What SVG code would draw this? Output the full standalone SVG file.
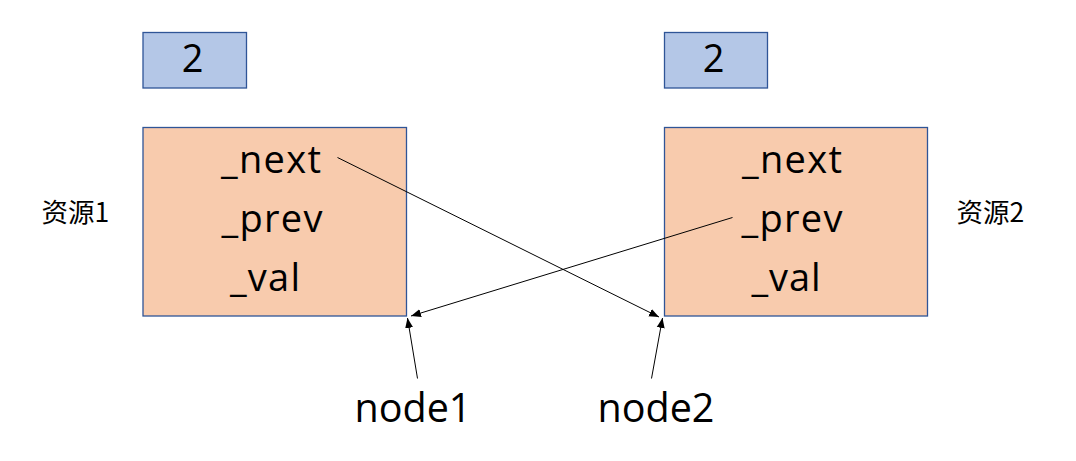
<svg xmlns="http://www.w3.org/2000/svg" width="1076" height="461" viewBox="0 0 1076 461">
<defs>
<style>
.cnt{fill:#B4C7E7;stroke:#2F5597;stroke-width:1.3}
.node{fill:#F8CBAD;stroke:#2F5597;stroke-width:1.3}
.t{font-family:"Open Sans","Noto Sans","Noto Sans CJK SC",sans-serif;fill:#000;text-anchor:middle}
.f{font-size:38px}
.lbl{font-family:"Noto Sans CJK SC","Noto Sans",sans-serif;font-size:26.5px;fill:#000}
.big{font-size:39.5px}
.c{stroke:#000;stroke-width:1;fill:none;marker-end:url(#ah)}
</style>
<marker id="ah" viewBox="0 0 10 10" refX="10" refY="5" markerWidth="10" markerHeight="10" markerUnits="userSpaceOnUse" orient="auto">
<path d="M0,1 L10,5 L0,9 Z" fill="#000"/>
</marker>
</defs>
<rect width="1076" height="461" fill="#fff"/>
<g id="count1">
<rect class="cnt" x="143" y="32.5" width="103.5" height="55.5"/>
<text class="t f" x="192.5" y="72">2</text>
</g>
<g id="count2">
<rect class="cnt" x="664.5" y="32.5" width="103" height="55.5"/>
<text class="t f" x="713.5" y="72">2</text>
</g>
<g id="node1box">
<rect class="node" x="143" y="127.5" width="263.5" height="188.5"/>
<text class="t f" x="271" y="173" textLength="100">_next</text>
<text class="t f" x="272" y="232" textLength="101">_prev</text>
<text class="t f" x="265" y="291" textLength="70">_val</text>
</g>
<g id="node2box">
<rect class="node" x="664.5" y="127.5" width="263" height="188.5"/>
<text class="t f" x="792" y="173" textLength="100">_next</text>
<text class="t f" x="792" y="232" textLength="101">_prev</text>
<text class="t f" x="786" y="291" textLength="69">_val</text>
</g>
<g id="res1"><text class="lbl" x="41.5" y="222">资源1</text></g>
<g id="res2"><text class="lbl" x="956.5" y="222">资源2</text></g>
<g id="node1label"><text class="t big" x="413" y="422">node1</text></g>
<g id="node2label"><text class="t big" x="656" y="422">node2</text></g>
<g id="connectors">
<line class="c" x1="337.5" y1="157.5" x2="659" y2="317"/>
<line class="c" x1="732.5" y1="217.5" x2="411" y2="316"/>
<line class="c" x1="417.5" y1="378.5" x2="407.5" y2="318"/>
<line class="c" x1="651.5" y1="378.5" x2="662.5" y2="318"/>
</g>
</svg>
